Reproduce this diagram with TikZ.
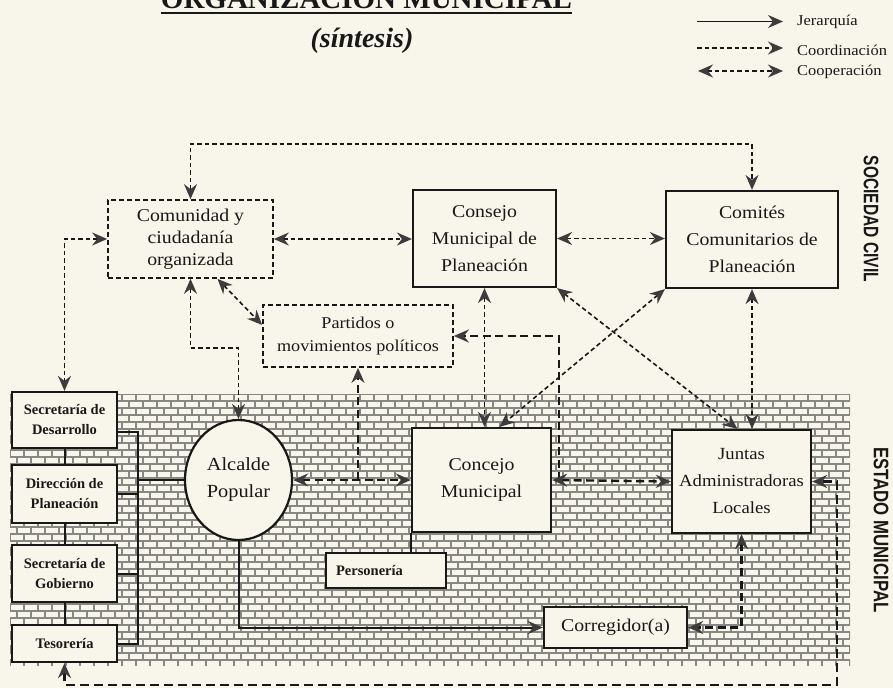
\documentclass[tikz,border=0pt]{standalone}
\usepackage{fontspec}
\newfontfamily\titlefont{Liberation Serif}
\newfontfamily\nodefont{Liberation Serif}[FakeStretch=1.1]
\newfontfamily\labelfont{Liberation Sans}
\usetikzlibrary{arrows.meta,shapes.geometric}
\definecolor{paper}{RGB}{248,245,234}
\definecolor{ink}{RGB}{24,24,24}
\definecolor{tipgray}{RGB}{60,60,60}
\definecolor{mortar}{RGB}{135,135,132}
\begin{document}
\begin{tikzpicture}[x=1pt,y=-1pt,
  >={Stealth[length=15pt,width=13pt,inset=5pt,color=tipgray]},
  box/.style={draw=ink,line width=2.2pt,fill=paper,align=center,inner sep=0pt,text=ink,font=\nodefont\fontsize{18}{27}\selectfont},
  dbox/.style={box,line width=1.7pt,dash pattern=on 5pt off 3pt},
  sbox/.style={box,font=\titlefont\bfseries\fontsize{14.5}{20}\selectfont},
  coop/.style={draw=ink,line width=1.6pt,dash pattern=on 4.5pt off 3pt,<->},
  coord/.style={draw=ink,line width=2.4pt,dash pattern=on 8pt off 4.5pt,->},
  jer/.style={draw=ink,line width=2pt},
  mortarline/.style={draw=mortar,line width=1.8pt},
  leg/.style={font=\nodefont\fontsize{15}{17}\selectfont,text=ink,anchor=west,inner sep=0pt}
]
\fill[paper] (0,0) rectangle (893,688);
\useasboundingbox (0,0) rectangle (893,688);

% brick pattern
\begin{scope}
\clip (10,394) rectangle (850,665);
\foreach \k in {0,...,38} {
  \pgfmathsetmacro{\bkY}{394+7*\k}
  \pgfmathsetmacro{\bkO}{mod(\k,2)*7}
  \draw[mortarline] (10,\bkY) -- (850,\bkY);
  \draw[mortarline] \foreach \j in {0,...,60} {({10+\bkO+14*\j},\bkY) -- ++(0,7)};
}
\end{scope}

% title
\node[inner sep=0pt,anchor=base,font=\titlefont\bfseries\fontsize{29}{30}\selectfont,text=ink] (title) at (366.5,9) {ORGANIZACIÓN MUNICIPAL};
\draw[ink,line width=2.2pt] ([yshift=-4pt]title.base west) -- ([yshift=-4pt]title.base east);
\node[font=\titlefont\bfseries\itshape\fontsize{28}{30}\selectfont,text=ink] (sintesis) at (362,41) {(síntesis)};

% legend
\coordinate (l1a) at (697,21.5); \coordinate (l1b) at (783,21.5);
\coordinate (l2a) at (697,48); \coordinate (l2b) at (783,48);
\coordinate (l3a) at (698,71); \coordinate (l3b) at (783,71);
\draw[jer,line width=1.6pt,->] (l1a) -- (l1b);
\draw[coop,line width=1.4pt,->] (l2a) -- (l2b);
\draw[coop,line width=1.4pt] (l3a) -- (l3b);
\node[leg] (ljer) at (797,21.5) {Jerarquía};
\node[leg] (lcoord) at (797,50) {Coordinación};
\node[leg] (lcoop) at (797,72) {Cooperación};

% side labels
\node[rotate=-90,font=\labelfont\bfseries\fontsize{21}{21}\selectfont,text=ink,inner sep=0pt] (soc) at (871,219) {\scalebox{0.74}[1]{SOCIEDAD CIVIL}};
\node[rotate=-90,font=\labelfont\bfseries\fontsize{21}{21}\selectfont,text=ink,inner sep=0pt] (est) at (881,530) {\scalebox{0.8}[1]{ESTADO MUNICIPAL}};

% nodes
\node[dbox,minimum width=165pt,minimum height=78pt,font=\nodefont\fontsize{18}{22}\selectfont] (comunidad) at (190.5,239) {Comunidad y\\ciudadanía\\organizada};
\node[box,minimum width=143pt,minimum height=97pt] (consejo) at (484.5,238.5) {Consejo\\Municipal de\\Planeación};
\node[box,minimum width=172pt,minimum height=97pt] (comites) at (752,239.5) {Comités\\Comunitarios de\\Planeación};
\node[dbox,minimum width=190pt,minimum height=62pt,font=\nodefont\fontsize{16.5}{23}\selectfont] (partidos) at (358,336) {Partidos o\\movimientos políticos};
\node[box,ellipse,minimum width=107pt,minimum height=120pt,font=\nodefont\fontsize{18.5}{27}\selectfont] (alcalde) at (238.5,480) {Alcalde\\Popular};
\node[box,minimum width=139pt,minimum height=104pt] (concejo) at (481.5,480) {Concejo\\Municipal};
\node[box,minimum width=139pt,minimum height=103pt,font=\nodefont\fontsize{17}{27}\selectfont] (juntas) at (741.5,481.5) {Juntas\\Administradoras\\Locales};
\node[sbox,minimum width=105pt,minimum height=56pt] (sdes) at (64.5,420) {Secretaría de\\Desarrollo};
\node[sbox,minimum width=105pt,minimum height=58pt] (dplan) at (64.5,494) {Dirección de\\Planeación};
\node[sbox,minimum width=105pt,minimum height=57pt] (sgob) at (64.5,573.5) {Secretaría de\\Gobierno};
\node[sbox,minimum width=105pt,minimum height=37pt] (teso) at (64.5,643.5) {Tesorería};
\node[sbox,anchor=west,minimum height=35pt,text width=100pt,inner xsep=10pt,align=left] (personeria) at (325,570.5) {Personería};
\node[box,minimum width=143pt,minimum height=41pt] (corregidor) at (615.5,627.5) {Corregidor(a)};

% cooperation connectors
\coordinate (topline) at (470,144);
\draw[coop] (comunidad.north) |- (topline) -| (comites.north);
\draw[coop] (comunidad.east) -- (consejo.west |- comunidad.east);
\draw[coop] (consejo.east) -- (comites.west |- consejo.east);
\draw[coop] (comunidad.west) -| (sdes.north);
\coordinate (cbend) at (215,348);
\draw[coop] (comunidad.south) |- (cbend) -| (alcalde.north);
\draw[coop] ([xshift=27pt]comunidad.south) -- ([yshift=11pt]partidos.west);
\draw[coop] (consejo.south) -- (consejo.south |- concejo.north);
\draw[coop] (consejo.south east) -- ([xshift=-4pt]juntas.north);
\draw[coop] (comites.south west) -- ([xshift=18pt]concejo.north);
\draw[coop] (comites.south) -- (comites.south |- juntas.north);

% coordination connectors
\draw[coord,<->] (alcalde.east) -- (concejo.west);
\draw[coord] (partidos.south |- alcalde.east) -- (partidos.south);
\draw[coord] ([xshift=7pt]concejo.east) |- (partidos.east);
\draw[coord,<->] (concejo.east) -- (juntas.west);
\draw[coord,<->] (juntas.south) |- (corregidor.east);
\coordinate (botr) at (837,685);
\draw[coord,<->,dash pattern=on 9pt off 5pt,line width=2.8pt] (teso.south) |- (botr) |- (juntas.east);

% hierarchy
\draw[jer,->] (alcalde.south) |- (corregidor.west);
\coordinate (bk) at (138,480);
\draw[jer] ([yshift=-12pt]sdes.east) -| (bk) |- (teso.east);
\draw[jer] (dplan.east) -- (dplan.east -| bk);
\draw[jer] (sgob.east) -- (sgob.east -| bk);
\draw[jer] (bk) -- (alcalde.west);
\draw[jer] (sdes.south) -- (dplan.north);
\draw[jer] (dplan.south) -- (sgob.north);
\draw[jer] (sgob.south) -- (teso.north);
\draw[jer] (concejo.south west) -- (concejo.south west |- personeria.north);
\end{tikzpicture}
\end{document}
